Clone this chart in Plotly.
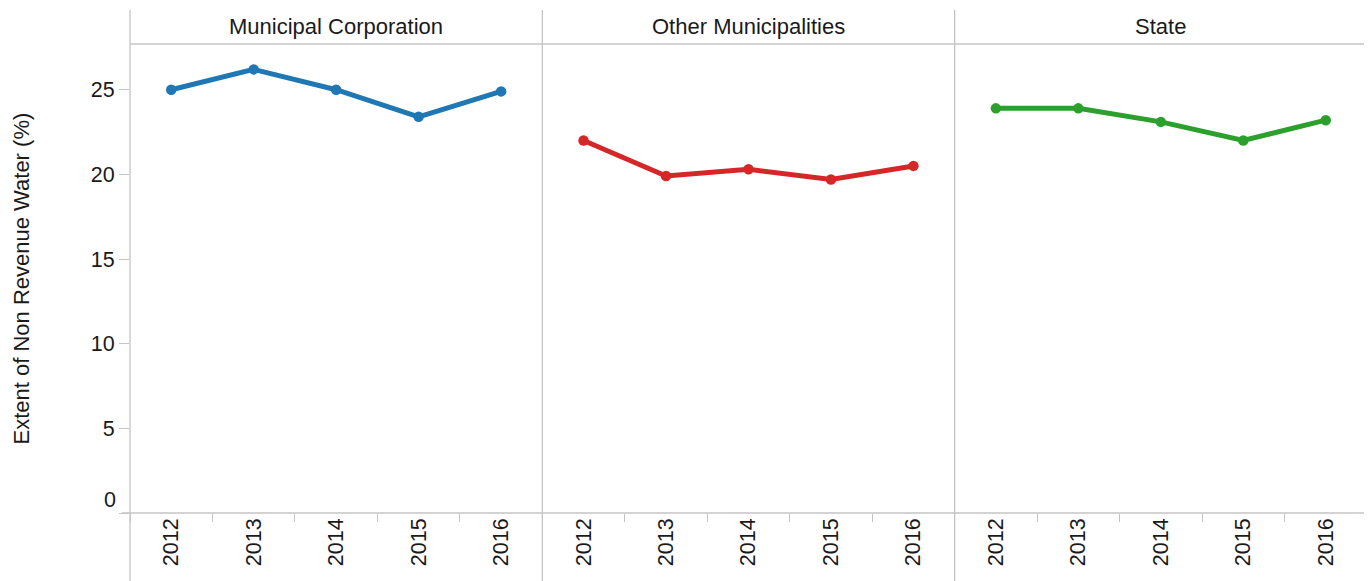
import plotly.graph_objects as go

years = ["2012", "2013", "2014", "2015", "2016"]
panels = ["Municipal Corporation", "Other Municipalities", "State"]
municipal_corp = [25.0, 26.2, 25.0, 23.4, 24.9]
other_munis = [22.0, 19.9, 20.3, 19.7, 20.5]
state = [23.9, 23.9, 23.1, 22.0, 23.2]
series_values = [municipal_corp, other_munis, state]
colors = ["#1f77b4", "#d62728", "#2ca02c"]
y_ticks = [0, 5, 10, 15, 20, 25]
y_title = "Extent of Non Revenue Water (%)"

W, H = 1372, 581
ML, MR, MT, MB = 122, 13, 36, 76.3
PW = W - ML - MR
PH = H - MT - MB
GRAY = "#c4c4c4"
FONT = "Liberation Sans, Arial, sans-serif"
TXT = "#1a1a1a"
FS = 21.5

fig = go.Figure()
n = len(panels)
for i, (name, vals, col) in enumerate(zip(panels, series_values, colors)):
    xa = "x" if i == 0 else f"x{i+1}"
    fig.add_trace(go.Scatter(
        x=years, y=vals, mode="lines+markers", name=name,
        line=dict(color=col, width=5), marker=dict(color=col, size=10.5),
        xaxis=xa, yaxis="y", showlegend=False, cliponaxis=False))
    d0, d1 = i / n, (i + 1) / n
    key = "xaxis" if i == 0 else f"xaxis{i+1}"
    fig.layout[key] = dict(
        domain=[d0, d1], anchor="y", type="category",
        categoryorder="array", categoryarray=years, range=[-0.5, 4.5],
        tickangle=-90, ticks="outside", tickson="boundaries", ticklen=8,
        tickcolor=GRAY, tickwidth=1, showgrid=False, zeroline=False,
        showline=False, tickfont=dict(family=FONT, size=FS, color=TXT))
    fig.add_annotation(
        text=name, x=(d0 + d1) / 2, xref="paper", y=1 + 17 / PH, yref="paper",
        xanchor="center", yanchor="middle", showarrow=False,
        font=dict(family=FONT, size=22, color=TXT))

fig.update_layout(
    yaxis=dict(range=[0, 27.7], tickvals=y_ticks,
               ticktext=["" if v == 0 else str(v) for v in y_ticks],
               ticks="outside", ticklen=10, tickcolor=GRAY, tickwidth=1,
               showgrid=False, zeroline=False, showline=False,
               tickfont=dict(family=FONT, size=FS, color=TXT)),
    width=W, height=H, margin=dict(l=ML, r=MR, t=MT, b=MB, pad=0),
    plot_bgcolor="white", paper_bgcolor="white", showlegend=False,
)

# zero label lifted above the axis line
fig.add_annotation(text="0", x=-12 / PW, xref="paper", y=0, yref="y",
                   xanchor="right", yanchor="middle", yshift=13, showarrow=False,
                   font=dict(family=FONT, size=FS, color=TXT))

# y-axis title
fig.add_annotation(text=y_title, x=-109 / PW, xref="paper", y=0.5, yref="paper",
                   xanchor="center", yanchor="middle", textangle=-90, showarrow=False,
                   font=dict(family=FONT, size=22, color=TXT))

# frame lines
top_ext = 1 + (MT - 2) / PH
bot_ext = -MB / PH
for k in range(n + 1):
    fig.add_shape(type="line", xref="paper", yref="paper", x0=k / n, x1=k / n,
                  y0=bot_ext, y1=top_ext, line=dict(color=GRAY, width=1.3), layer="below")
fig.add_shape(type="line", xref="paper", yref="paper", x0=0, x1=1, y0=1, y1=1,
              line=dict(color=GRAY, width=1.3), layer="below")
fig.add_shape(type="line", xref="paper", yref="paper", x0=-8 / PW, x1=1, y0=0, y1=0,
              line=dict(color=GRAY, width=1.3), layer="below")

fig.write_html("out.html")
